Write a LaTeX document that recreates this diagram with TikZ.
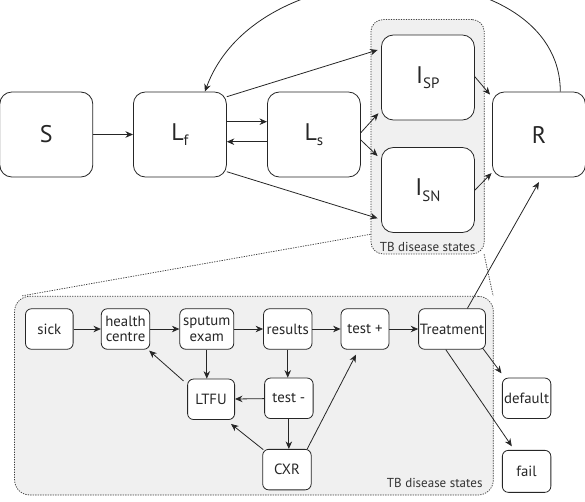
\documentclass[tikz,border=0pt]{standalone}
\usepackage{fontspec}
\setmainfont{PT Sans}
\usetikzlibrary{arrows.meta,positioning,fit,backgrounds}

\tikzset{
  compartment/.style={draw=black!85, fill=white, rounded corners=12pt, line width=0.8pt,
    minimum width=93pt, minimum height=85pt, text=black!85, font=\fontsize{24}{24}\selectfont},
  stage/.style={draw=black!85, fill=white, rounded corners=6pt, line width=0.8pt,
    minimum width=48.5pt, minimum height=40.5pt, inner sep=1pt, align=center,
    text=black!85, font=\fontsize{14.8}{15.5}\selectfont},
  flow/.style={draw=black!85, line width=0.8pt, -{Stealth[length=7.5pt,width=6.5pt]}},
  state_group/.style={draw=black!75, fill=black!6, line width=0.75pt,
    dash pattern=on 1.3pt off 1.2pt, inner sep=0pt},
  zoom_link/.style={draw=black!75, line width=0.75pt, dash pattern=on 1.3pt off 1.2pt},
  group_label/.style={text=black!80, font=\fontsize{13}{13}\selectfont, inner sep=1pt},
}
\newcommand{\sub}[1]{\raisebox{-5.5pt}{\fontsize{15}{15}\selectfont #1}}

\begin{document}
\begin{tikzpicture}[x=1pt,y=1pt]
\useasboundingbox (0,0) rectangle (585,-501);

% nodes
\node[compartment] (susceptible) at (46.3,-134.5) {S};
\node[compartment, right=39.8pt of susceptible] (latent_fast) {L\sub{f}};
\node[compartment, right=40.2pt of latent_fast] (latent_slow) {L\sub{s}};
\node[compartment, right=20.2pt of latent_slow, yshift=57pt] (infectious_sp) {I\sub{SP}};
\node[compartment, right=20.2pt of latent_slow, yshift=-55.5pt] (infectious_sn) {I\sub{SN}};
\node[compartment, right=131.2pt of latent_slow] (recovered) {R};

\node[stage, minimum width=47.6pt] (sick) at (49.3,-329) {sick};
\node[stage, right=27.4pt of sick] (health_centre) {health\\centre};
\node[stage, right=29.2pt of health_centre, minimum width=54pt] (sputum_exam) {sputum\\exam};
\node[stage, right=28.9pt of sputum_exam] (results) {results};
\node[stage, right=28.2pt of results, minimum width=48pt] (test_pos) {test +};
\node[stage, right=28.8pt of test_pos, minimum width=66.8pt] (treatment) {Treatment};

\node[stage, below=29pt of sputum_exam, xshift=4.3pt, minimum width=47pt] (ltfu) {LTFU};
\node[stage, below=28pt of results, xshift=1.1pt] (test_neg) {test -};
\node[stage, below=30pt of test_neg, xshift=-1.9pt] (cxr) {CXR};
\node[stage, below=28pt of treatment, xshift=74.6pt] (default_node) {default};
\node[stage, below=31pt of default_node, minimum height=42pt] (fail) {fail};

% plates
\begin{scope}[on background layer]
  \node[state_group, rounded corners=12pt,
    fit={([shift={(-10.1pt,15pt)}]infectious_sp.north west) ([shift={(9.4pt,-21pt)}]infectious_sn.south east)}] (tb_group) {};
  \node[state_group, rounded corners=15pt,
    fit={([shift={(-10.5pt,12pt)}]sick.north west) ([shift={(7.5pt,-4.7pt)}]treatment.east |- cxr.south)}] (tb_region) {};
\end{scope}
\node[group_label, anchor=south] at ([yshift=1.5pt]tb_group.south) {TB disease states};
\node[group_label, anchor=south east] at ([shift={(-10pt,6pt)}]tb_region.south east) {TB disease states};

\draw[zoom_link] ([yshift=20pt]tb_group.south west) -- ([xshift=7pt]tb_region.north west);
\draw[zoom_link] ([xshift=-0.5pt]tb_group.south east) -- ([xshift=-0.5pt]tb_region.north east);

% edges
\draw[flow] (susceptible) -- (latent_fast);
\draw[flow] ([yshift=12.8pt]latent_fast.east) -- ([yshift=12.8pt]latent_slow.west);
\draw[flow] ([yshift=-7.2pt]latent_slow.west) -- ([yshift=-7.2pt]latent_fast.east);
\draw[flow] ([yshift=37.8pt]latent_fast.east) -- ([shift={(-3.4pt,27.5pt)}]infectious_sp.west);
\draw[flow] ([yshift=-37.2pt]latent_fast.east) -- ([shift={(-3.4pt,-28.3pt)}]infectious_sn.west);
\draw[flow] ([yshift=1.8pt]latent_slow.east) -- ([shift={(-2.6pt,-35.8pt)}]infectious_sp.west);
\draw[flow] ([yshift=-5.5pt]latent_slow.east) -- ([shift={(-3.4pt,34pt)}]infectious_sn.west);
\draw[flow] ([yshift=0.8pt]infectious_sp.east) -- ([shift={(-2pt,-3pt)}]recovered.north west);
\draw[flow] ([yshift=-0.2pt]infectious_sn.east) -- ([shift={(-0.5pt,4.3pt)}]recovered.south west);
\draw[flow] ([xshift=21.4pt]recovered.north) .. controls +(0,140) and +(55,150) .. ([xshift=25pt]latent_fast.north);
\draw[flow] ([xshift=15.4pt]treatment.north) -- ([yshift=-4.7pt]recovered.south);

\draw[flow] (sick) -- (health_centre);
\draw[flow] (health_centre) -- (sputum_exam);
\draw[flow] (sputum_exam) -- (results);
\draw[flow] (results) -- (test_pos);
\draw[flow] (test_pos) -- (treatment);
\draw[flow] (sputum_exam.south) -- (sputum_exam.south |- ltfu.north);
\draw[flow] (results.south) -- (results.south |- test_neg.north);
\draw[flow] (test_neg) -- (ltfu);
\draw[flow] (test_neg.south) -- (test_neg.south |- cxr.north);
\draw[flow] ([shift={(-3.7pt,-2.3pt)}]ltfu.north west) -- ([shift={(-1pt,-1pt)}]health_centre.south east);
\draw[flow] ([shift={(1pt,-0.7pt)}]cxr.north west) -- ([shift={(-4pt,-4pt)}]ltfu.south east);
\draw[flow] ([xshift=-4.4pt]cxr.north east) -- ([shift={(-9pt,-5pt)}]test_pos.south);
\draw[flow] ([shift={(-3pt,1.3pt)}]treatment.south east) -- ([shift={(-0.5pt,4.3pt)}]default_node.north west);
\draw[flow] ([xshift=-6.2pt]treatment.south) -- ([shift={(-14.8pt,3.7pt)}]fail.north);
\end{tikzpicture}
\end{document}
